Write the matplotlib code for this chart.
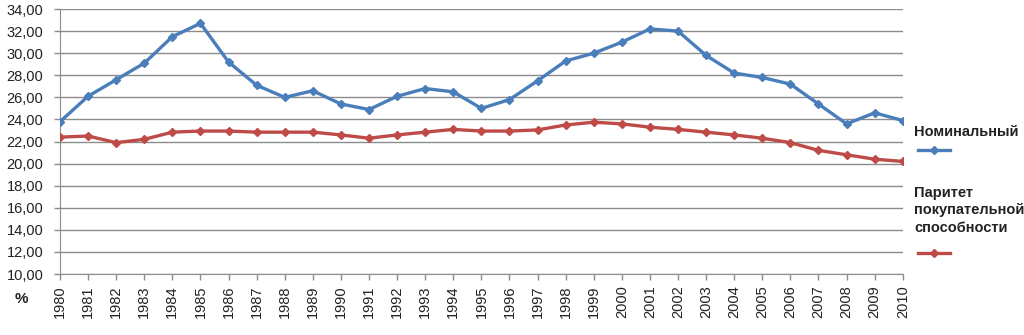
import numpy as np
import matplotlib
matplotlib.use("Agg")
import matplotlib.pyplot as plt
from matplotlib.lines import Line2D
from matplotlib.ticker import FuncFormatter

# =========================
# Data
# =========================
years = list(range(1980, 2011))

nominal = [23.8, 26.1, 27.6, 29.1, 31.5, 32.7, 29.2, 27.1, 26.0, 26.6,
           25.4, 24.9, 26.1, 26.8, 26.5, 25.0, 25.8, 27.5, 29.3, 30.0,
           31.0, 32.2, 32.0, 29.8, 28.2, 27.8, 27.2, 25.4, 23.6, 24.6,
           23.9]

ppp = [22.4, 22.5, 21.9, 22.2, 22.85, 22.95, 22.95, 22.85, 22.85, 22.85,
       22.6, 22.3, 22.6, 22.85, 23.1, 22.95, 22.95, 23.05, 23.5, 23.75,
       23.6, 23.3, 23.1, 22.85, 22.6, 22.3, 21.9, 21.2, 20.8, 20.4,
       20.2]

series_names = ["Номинальный", "Паритет\nпокупательной\nспособности"]

BLUE = "#4a7ebb"
RED  = "#be4b48"
GRID = "#8c8c8c"

plt.rcParams["font.family"] = ["Liberation Sans", "DejaVu Sans"]

fig = plt.figure(figsize=(10.24, 3.35), dpi=100)
ax = fig.add_axes([0.0586, 0.182, 0.823, 0.791])

ax.plot(years, nominal, color=BLUE, lw=2.4, marker="D", ms=4,
        markeredgecolor=BLUE, zorder=3)
ax.plot(years, ppp, color=RED, lw=2.4, marker="D", ms=4,
        markeredgecolor=RED, zorder=3)

ax.set_xlim(1980, 2010)
ax.set_ylim(10, 34)
ax.set_yticks(np.arange(10, 35, 2))
ax.yaxis.set_major_formatter(FuncFormatter(lambda v, p: f"{v:.2f}".replace(".", ",")))
ax.set_xticks(years)
ax.set_xticklabels([str(y) for y in years], rotation=90)

ax.grid(axis="y", color=GRID, lw=1)
ax.set_axisbelow(True)
for side in ["top", "right"]:
    ax.spines[side].set_visible(False)
ax.spines["left"].set_color(GRID)
ax.spines["bottom"].set_color(GRID)
ax.tick_params(axis="both", colors=GRID, labelcolor="#222222", labelsize=10.5,
               length=4, width=1)
ax.tick_params(axis="x", direction="out", pad=4)
ax.tick_params(axis="y", pad=8)

fig.text(0.014, 0.095, "%", fontsize=11, fontweight="bold", color="#222222")

# ── Legend on the right: label above its line sample ──────────
fig.text(0.893, 0.606, series_names[0], fontsize=10.5, fontweight="bold",
         color="#222222", va="center")
fig.add_artist(Line2D([0.896, 0.928], [0.552, 0.552], color=BLUE, lw=2.4))
fig.add_artist(Line2D([0.912], [0.552], color=BLUE, marker="D", ms=4))

fig.text(0.893, 0.372, series_names[1], fontsize=10.5, fontweight="bold",
         color="#222222", va="center", linespacing=1.3)
fig.add_artist(Line2D([0.896, 0.928], [0.245, 0.245], color=RED, lw=2.4))
fig.add_artist(Line2D([0.912], [0.245], color=RED, marker="D", ms=4))

fig.savefig("out.png", dpi=100)
